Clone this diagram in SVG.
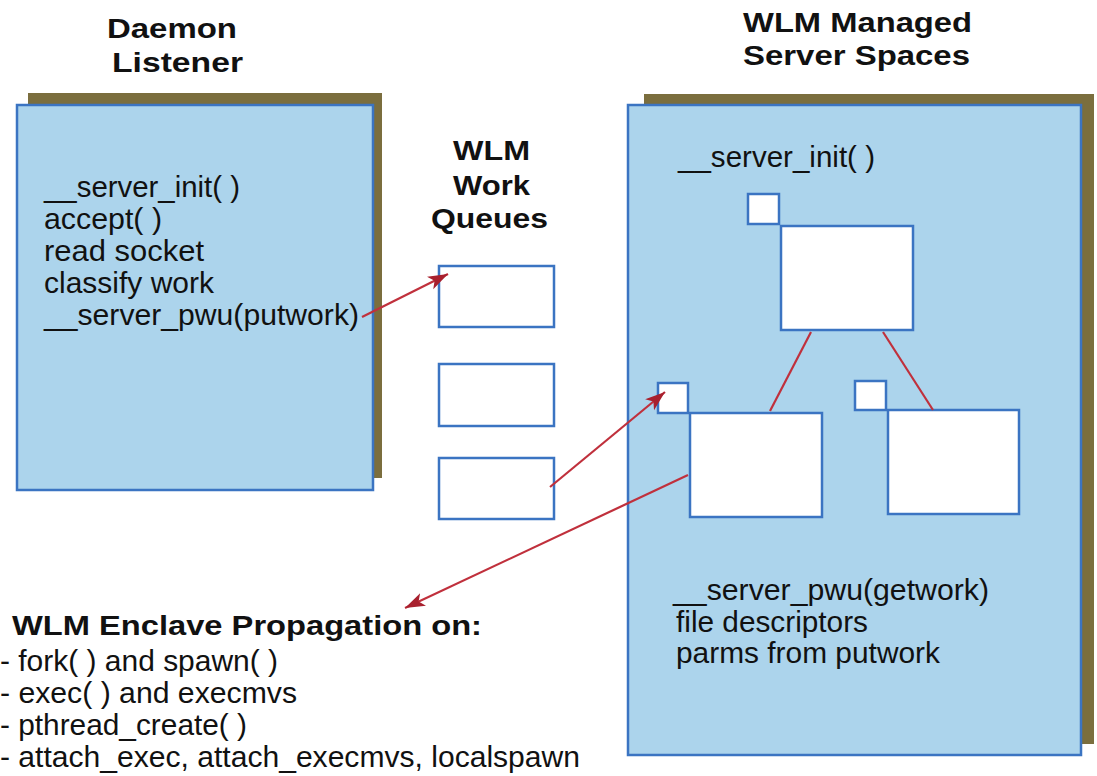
<svg xmlns="http://www.w3.org/2000/svg" width="1097" height="776" viewBox="0 0 1097 776">
<style>
.panel{fill:#acd4ec;stroke:#3b74c2;stroke-width:2.5}
.shadow{fill:#7b6e3e}
.wbox{fill:#ffffff;stroke:#3b74c2;stroke-width:2.5}
.t{font-family:"Liberation Sans",Arial,sans-serif;font-size:29px;fill:#111}
.h{font-family:"Liberation Sans",Arial,sans-serif;font-size:28px;font-weight:bold;fill:#111}
.red{stroke:#c0303c;stroke-width:2.2;fill:none}
</style>
<defs>
<marker id="ah" markerUnits="userSpaceOnUse" markerWidth="22" markerHeight="16" refX="20" refY="7" orient="auto">
<path d="M0,0 L20,7 L0,14 L5,7 z" fill="#a8202e"/>
</marker>
</defs>
<rect width="1097" height="776" fill="#ffffff"/>

<g id="daemon-listener">
<text class="h" x="107" y="38" textLength="130" lengthAdjust="spacingAndGlyphs">Daemon</text>
<text class="h" x="112" y="72" textLength="131" lengthAdjust="spacingAndGlyphs">Listener</text>
<rect class="shadow" x="28" y="93" width="354" height="385"/>
<rect class="panel" x="17" y="105" width="356" height="385"/>
<text class="t" x="44" y="197" textLength="196" lengthAdjust="spacingAndGlyphs">__server_init( )</text>
<text class="t" x="44" y="229" textLength="118" lengthAdjust="spacingAndGlyphs">accept( )</text>
<text class="t" x="44" y="261" textLength="160" lengthAdjust="spacingAndGlyphs">read socket</text>
<text class="t" x="44" y="293" textLength="170" lengthAdjust="spacingAndGlyphs">classify work</text>
<text class="t" x="44" y="325" textLength="315" lengthAdjust="spacingAndGlyphs">__server_pwu(putwork)</text>
</g>

<g id="work-queues">
<text class="h" x="453" y="160" textLength="77" lengthAdjust="spacingAndGlyphs">WLM</text>
<text class="h" x="453" y="195" textLength="77" lengthAdjust="spacingAndGlyphs">Work</text>
<text class="h" x="431" y="228" textLength="117" lengthAdjust="spacingAndGlyphs">Queues</text>
<rect class="wbox" x="439" y="266" width="115" height="61"/>
<rect class="wbox" x="439" y="364" width="115" height="62"/>
<rect class="wbox" x="439" y="458" width="115" height="61"/>
</g>

<g id="server-spaces">
<text class="h" x="743" y="32" textLength="229" lengthAdjust="spacingAndGlyphs">WLM Managed</text>
<text class="h" x="743" y="65" textLength="227" lengthAdjust="spacingAndGlyphs">Server Spaces</text>
<rect class="shadow" x="644" y="94" width="450" height="650"/>
<rect class="panel" x="628" y="105" width="453" height="650"/>
<text class="t" x="678" y="167" textLength="197" lengthAdjust="spacingAndGlyphs">__server_init( )</text>
<rect class="wbox" x="748" y="194" width="31" height="30"/>
<rect class="wbox" x="781" y="226" width="132" height="104"/>
<rect class="wbox" x="658" y="383" width="30" height="30"/>
<rect class="wbox" x="690" y="413" width="132" height="104"/>
<rect class="wbox" x="855" y="381" width="31" height="29"/>
<rect class="wbox" x="888" y="410" width="131" height="104"/>
<text class="t" x="673" y="600" textLength="316" lengthAdjust="spacingAndGlyphs">__server_pwu(getwork)</text>
<text class="t" x="676" y="632" textLength="192" lengthAdjust="spacingAndGlyphs">file descriptors</text>
<text class="t" x="676" y="663" textLength="264" lengthAdjust="spacingAndGlyphs">parms from putwork</text>
</g>

<g id="enclave-propagation">
<text class="h" x="12" y="635" textLength="470" lengthAdjust="spacingAndGlyphs">WLM Enclave Propagation on:</text>
<text class="t" x="0" y="671" textLength="278" lengthAdjust="spacingAndGlyphs">- fork( ) and spawn( )</text>
<text class="t" x="0" y="703" textLength="297" lengthAdjust="spacingAndGlyphs">- exec( ) and execmvs</text>
<text class="t" x="0" y="735" textLength="247" lengthAdjust="spacingAndGlyphs">- pthread_create( )</text>
<text class="t" x="0" y="767" textLength="580" lengthAdjust="spacingAndGlyphs">- attach_exec, attach_execmvs, localspawn</text>
</g>

<g id="connectors">
<line class="red" x1="811" y1="332" x2="770" y2="411"/>
<line class="red" x1="883" y1="332" x2="933" y2="410"/>
<line class="red" x1="362" y1="317" x2="448" y2="274" marker-end="url(#ah)"/>
<line class="red" x1="550" y1="487" x2="665" y2="392" marker-end="url(#ah)"/>
<line class="red" x1="688" y1="475" x2="405" y2="608" marker-end="url(#ah)"/>
</g>
</svg>
